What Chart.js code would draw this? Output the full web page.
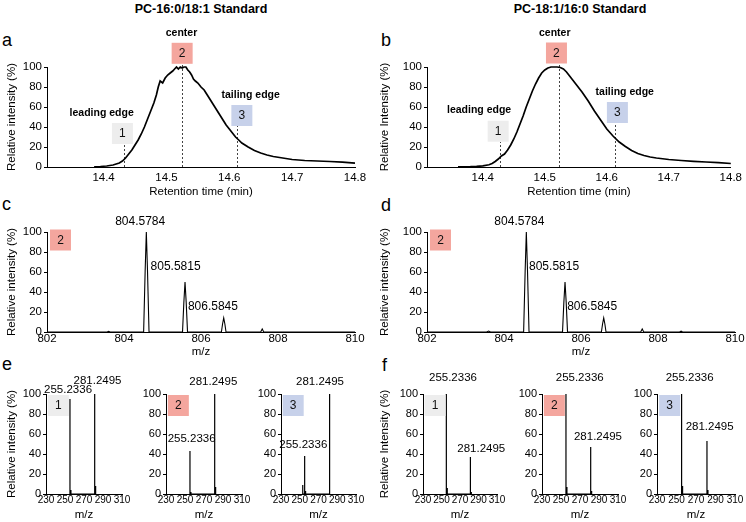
<!DOCTYPE html>
<html><head><meta charset="utf-8">
<script src="https://cdn.jsdelivr.net/npm/chart.js@4"></script>
<style>
html,body{margin:0;padding:0}
body{width:746px;height:522px;position:relative;background:#fff;overflow:hidden;font-family:"Liberation Sans",Arial,sans-serif;color:#000}
canvas{position:absolute}
.ttl{position:absolute;font-weight:bold;font-size:12.5px;white-space:nowrap;transform:translateX(-50%);line-height:1}
.lt{position:absolute;font-size:18px;line-height:1}
</style></head><body>
<div class="ttl" style="left:201px;top:3px">PC-16:0/18:1 Standard</div>
<div class="ttl" style="left:580px;top:3px">PC-18:1/16:0 Standard</div>
<div class="lt" style="left:2px;top:31px">a</div>
<div class="lt" style="left:381px;top:31px">b</div>
<div class="lt" style="left:2px;top:195px">c</div>
<div class="lt" style="left:381px;top:196px">d</div>
<div class="lt" style="left:2px;top:355px">e</div>
<div class="lt" style="left:382px;top:356px">f</div>
<canvas id="ca"></canvas><canvas id="cb"></canvas>
<canvas id="cc"></canvas><canvas id="cd"></canvas>
<canvas id="ce1"></canvas><canvas id="ce2"></canvas><canvas id="ce3"></canvas>
<canvas id="cf1"></canvas><canvas id="cf2"></canvas><canvas id="cf3"></canvas>
<script>
// ================= DATA =================
const yTicks = [0, 20, 40, 60, 80, 100];
const chromTicks = [14.4, 14.5, 14.6, 14.7, 14.8];
const msTicks = [802, 804, 806, 808, 810];
const msmsTicks = [230, 250, 270, 290, 310];

// (a) PC-16:0/18:1 extracted ion chromatogram
const aTime = [14.385,14.395,14.405,14.415,14.425,14.43,14.435,14.44,14.445,14.45,14.455,14.46,14.465,14.47,14.475,14.48,14.484,14.487,14.49,14.494,14.498,14.502,14.506,14.51,14.513,14.516,14.519,14.522,14.525,14.528,14.531,14.534,14.537,14.54,14.543,14.546,14.55,14.555,14.56,14.565,14.57,14.575,14.58,14.585,14.59,14.595,14.6,14.605,14.61,14.615,14.62,14.63,14.64,14.65,14.66,14.67,14.68,14.69,14.7,14.72,14.74,14.76,14.78,14.8];
const aInt  = [0.2,0.5,1,2,4,6,9,13,17,22,27,33,40,48,56,64,72,80,86,84,89,92,94,96,98,100,98,100,99,100,100,97,95,92,88,86,84,80,77,72,67,62,57,52,47,42,38,34,30,27,24,20,16.5,14,12,10.5,9.5,8.5,7.5,6.5,6,5.5,4.8,3.8];

// (b) PC-18:1/16:0 extracted ion chromatogram
const bTime = [14.36,14.38,14.39,14.4,14.41,14.415,14.42,14.425,14.43,14.435,14.44,14.445,14.45,14.455,14.46,14.465,14.47,14.475,14.48,14.485,14.49,14.495,14.5,14.505,14.51,14.515,14.52,14.525,14.53,14.535,14.54,14.545,14.55,14.56,14.57,14.58,14.59,14.6,14.61,14.62,14.63,14.64,14.65,14.66,14.67,14.68,14.7,14.72,14.74,14.76,14.78,14.8];
const bInt  = [0.1,0.3,0.6,1.2,2.2,3.5,5.5,8,11,13,17,22,28,35,43,51,60,68,76,83,89,94,97,99,100,100,100,99.5,98,95,91,87,83,75,66,56,47,38,31,25,20.5,16.5,13.5,11.5,10,9,7.5,6.5,5.7,5,4.3,3.5];

// (c)/(d) MS1 spectra at peak center
const cMz  = [802,803.56,803.6,803.64,804.51,804.55,804.58,804.61,804.65,805.52,805.555,805.585,805.615,805.65,806.53,806.56,806.59,806.62,806.65,807.55,807.59,807.63,810];
const cInt = [0,0,0.6,0,0,62,100,62,0,0,30,50,30,0,0,8,14,8,0,0,3,0,0];
const dMz  = [802,803.55,803.6,803.65,804.51,804.55,804.58,804.61,804.65,805.52,805.555,805.585,805.615,805.65,806.53,806.56,806.59,806.62,806.65,807.55,807.59,807.63,808.56,808.6,808.64,810];
const dInt = [0,0,1,0,0,62,100,62,0,0,30,50,30,0,0,8,14,8,0,0,3,0,0,0.8,0,0];
const precursorLabels = ['804.5784', '805.5815', '806.5845'];

// (e)/(f) MS/MS spectra at leading edge (1), center (2), tailing edge (3)
const e1Mz = [255.23, 256.24, 281.25, 282.25];          const e1Int = [95, 4, 100, 8];
const e2Mz = [255.23, 256.24, 281.25, 282.25];          const e2Int = [43, 2, 100, 7];
const e3Mz = [253.2, 255.23, 256.24, 281.25, 282.25];   const e3Int = [9, 38, 3, 100, 7];
const f1Mz = [255.23, 256.24, 281.25, 282.25];          const f1Int = [100, 6, 37, 2];
const f2Mz = [255.23, 256.24, 281.25, 282.25];          const f2Int = [100, 7, 47, 3];
const f3Mz = [255.23, 256.24, 281.25, 282.25];          const f3Int = [100, 8, 53, 4];
const fragLabels = ['255.2336', '281.2495'];
const boxLabels = ['1', '2', '3'];

// ================= STYLE / LAYOUT =================
const FF = "'Liberation Sans', Arial, Helvetica, sans-serif";
const BOX = ['#EDEDED', '#F4A69E', '#C7D1EA'];

function pts(xs, ys) { return xs.map((x, i) => ({x: x, y: ys[i]})); }
function sticks(xs, ys) {
  const out = [];
  xs.forEach((x, i) => { out.push({x: x, y: 0}, {x: x, y: ys[i]}, {x: x, y: 0}); });
  return out;
}

function makeAnn(items) {
  return {
    id: 'ann',
    beforeDatasetsDraw(chart) {
      const ctx = chart.ctx, xs = chart.scales.x, ys = chart.scales.y;
      ctx.save();
      items.filter(it => it.k === 'dash').forEach(it => {
        const X = Math.round(xs.getPixelForValue(it.x)) + 0.5;
        ctx.strokeStyle = '#444'; ctx.lineWidth = 1; ctx.setLineDash([2, 2]);
        ctx.beginPath(); ctx.moveTo(X, ys.getPixelForValue(it.y0)); ctx.lineTo(X, ys.getPixelForValue(it.y1)); ctx.stroke();
      });
      ctx.restore();
    },
    afterDraw(chart) {
      const ctx = chart.ctx, xs = chart.scales.x, ys = chart.scales.y;
      ctx.save();
      items.forEach(it => {
        const X = xs.getPixelForValue(it.x), Y = ys.getPixelForValue(it.y);
        if (it.k === 'box') {
          ctx.fillStyle = BOX[it.c];
          ctx.fillRect(X - 10.5, Y - 10.5, 21, 21);
          ctx.fillStyle = '#111'; ctx.font = (it.s || 12) + 'px ' + FF;
          ctx.textAlign = 'center'; ctx.textBaseline = 'middle';
          ctx.fillText(it.t, X, Y + 0.5);
        } else if (it.k === 'text') {
          ctx.fillStyle = '#000'; ctx.font = (it.b ? 'bold ' : '') + (it.s || 11) + 'px ' + FF;
          ctx.textAlign = 'center'; ctx.textBaseline = 'middle';
          ctx.fillText(it.t, X, Y);
        }
      });
      ctx.restore();
    }
  };
}

function mk(id, P, data, o) {
  const cv = document.getElementById(id);
  const W = P.cr - P.cl, H = P.cb - P.ct;
  cv.style.left = P.cl + 'px'; cv.style.top = P.ct + 'px';
  cv.style.width = W + 'px'; cv.style.height = H + 'px';
  cv.width = W; cv.height = H;
  const yw = P.pl - P.cl, padTop = P.pt - P.ct, padRight = P.cr - P.pr, xh = P.cb - P.pb;
  return new Chart(cv, {
    type: 'line',
    data: {datasets: [{data: data, borderColor: '#000', borderWidth: o.lw, pointRadius: 0, tension: 0, clip: false, fill: false}]},
    options: {
      responsive: false, animation: false, events: [],
      layout: {padding: {top: padTop, right: padRight, left: 0, bottom: 0}},
      plugins: {legend: {display: false}, tooltip: {enabled: false}},
      scales: {
        x: {
          type: 'linear', min: o.xMin, max: o.xMax,
          afterBuildTicks: s => { s.ticks = o.xTicks.map(v => ({value: v})); },
          afterFit: s => { s.height = xh; },
          grid: {display: true, drawOnChartArea: false, drawTicks: false},
          border: {display: true, color: '#000', width: 1},
          ticks: {font: {family: FF, size: o.xtick}, color: '#000', padding: o.xpad, autoSkip: false, maxRotation: 0, callback: v => o.fmt(v)},
          title: {display: true, text: o.xTitle, font: {family: FF, size: o.title}, color: '#000', padding: {top: 0, bottom: o.xtPad}}
        },
        y: {
          type: 'linear', min: 0, max: 100,
          afterBuildTicks: s => { s.ticks = yTicks.map(v => ({value: v})); },
          afterFit: s => { s.width = yw; },
          grid: {display: true, drawOnChartArea: false, drawTicks: true, tickLength: 3, color: '#000'},
          border: {display: true, color: '#000', width: 1},
          ticks: {font: {family: FF, size: o.ytick}, color: '#000', padding: 2},
          title: {display: !!o.yTitle, text: o.yTitle || '', font: {family: FF, size: o.title}, color: '#000', padding: {top: 5, bottom: 0}}
        }
      }
    },
    plugins: [makeAnn(o.ann || [])]
  });
}

const chromOpt = {xMin: 14.31, xMax: 14.8, xTicks: chromTicks, fmt: v => v.toFixed(1), xtick: 11.5, ytick: 11.5, title: 11.5, xpad: 4, xtPad: 6, lw: 1.7, xTitle: 'Retention time (min)'};
const msOpt = {xMin: 802, xMax: 810, xTicks: msTicks, fmt: v => String(v), xtick: 11.5, ytick: 11.5, title: 11.5, xpad: 0, xtPad: 3, lw: 1.1, xTitle: 'm/z'};
const msmsOpt = {xMin: 230, xMax: 310, xTicks: msmsTicks, fmt: v => String(v), xtick: 10, ytick: 11, title: 11.5, xpad: 0, xtPad: 0.5, lw: 1.2, xTitle: 'm/z'};

// (a)
mk('ca', {cl: 0, ct: 22, cr: 373, cb: 205, pl: 47, pt: 67, pr: 355, pb: 167}, pts(aTime, aInt), Object.assign({}, chromOpt, {
  yTitle: 'Relative intensity (%)',
  ann: [
    {k: 'dash', x: 14.433, y0: 0, y1: 23}, {k: 'dash', x: 14.524, y0: 0, y1: 103}, {k: 'dash', x: 14.613, y0: 0, y1: 41},
    {k: 'text', t: 'leading edge', x: 14.397, y: 54, b: 1, s: 10.5},
    {k: 'text', t: 'center', x: 14.524, y: 134, b: 1, s: 10.5},
    {k: 'text', t: 'tailing edge', x: 14.634, y: 72, b: 1, s: 10.5},
    {k: 'box', t: boxLabels[0], c: 0, x: 14.43, y: 33.5},
    {k: 'box', t: boxLabels[1], c: 1, x: 14.525, y: 113.7},
    {k: 'box', t: boxLabels[2], c: 2, x: 14.62, y: 51.5}
  ]}));
// (b)
mk('cb', {cl: 373, ct: 22, cr: 746, cb: 205, pl: 427, pt: 67, pr: 735, pb: 167}, pts(bTime, bInt), Object.assign({}, chromOpt, {
  yTitle: 'Relative Intensity (%)',
  ann: [
    {k: 'dash', x: 14.428, y0: 0, y1: 25}, {k: 'dash', x: 14.523, y0: 0, y1: 103}, {k: 'dash', x: 14.614, y0: 0, y1: 44},
    {k: 'text', t: 'leading edge', x: 14.394, y: 57, b: 1, s: 10.5},
    {k: 'text', t: 'center', x: 14.516, y: 134, b: 1, s: 10.5},
    {k: 'text', t: 'tailing edge', x: 14.629, y: 75, b: 1, s: 10.5},
    {k: 'box', t: boxLabels[0], c: 0, x: 14.4248, y: 35.8},
    {k: 'box', t: boxLabels[1], c: 1, x: 14.5188, y: 114},
    {k: 'box', t: boxLabels[2], c: 2, x: 14.6171, y: 54.5}
  ]}));
// (c)
mk('cc', {cl: 0, ct: 200, cr: 373, cb: 362, pl: 47, pt: 232, pr: 355, pb: 332}, pts(cMz, cInt), Object.assign({}, msOpt, {
  yTitle: 'Relative intensity (%)',
  ann: [
    {k: 'box', t: boxLabels[1], c: 1, x: 802.35, y: 92},
    {k: 'text', t: precursorLabels[0], x: 804.42, y: 110.3, s: 12},
    {k: 'text', t: precursorLabels[1], x: 805.34, y: 65.3, s: 12},
    {k: 'text', t: precursorLabels[2], x: 806.31, y: 25.3, s: 12}
  ]}));
// (d)
mk('cd', {cl: 373, ct: 200, cr: 746, cb: 362, pl: 427, pt: 232, pr: 735, pb: 332}, pts(dMz, dInt), Object.assign({}, msOpt, {
  yTitle: 'Relative intensity (%)',
  ann: [
    {k: 'box', t: boxLabels[1], c: 1, x: 802.35, y: 92},
    {k: 'text', t: precursorLabels[0], x: 804.4, y: 110.3, s: 12},
    {k: 'text', t: precursorLabels[1], x: 805.3, y: 65, s: 12},
    {k: 'text', t: precursorLabels[2], x: 806.29, y: 25, s: 12}
  ]}));
// (e)
mk('ce1', {cl: 0, ct: 370, cr: 140, cb: 522, pl: 46, pt: 394, pr: 122, pb: 494}, sticks(e1Mz, e1Int), Object.assign({}, msmsOpt, {
  yTitle: 'Relative intensity (%)',
  ann: [
    {k: 'box', t: boxLabels[0], c: 0, x: 243, y: 88.5},
    {k: 'text', t: fragLabels[0], x: 253.2, y: 104, s: 11.5},
    {k: 'text', t: fragLabels[1], x: 284.2, y: 113, s: 11.5}
  ]}));
mk('ce2', {cl: 125, ct: 370, cr: 258, cb: 522, pl: 166, pt: 394, pr: 242, pb: 494}, sticks(e2Mz, e2Int), Object.assign({}, msmsOpt, {
  ann: [
    {k: 'box', t: boxLabels[1], c: 1, x: 243, y: 88.5},
    {k: 'text', t: fragLabels[1], x: 279.8, y: 112.3, s: 11.5},
    {k: 'text', t: fragLabels[0], x: 257, y: 54.7, s: 11.5}
  ]}));
mk('ce3', {cl: 245, ct: 370, cr: 373, cb: 522, pl: 281, pt: 394, pr: 356, pb: 494}, sticks(e3Mz, e3Int), Object.assign({}, msmsOpt, {
  ann: [
    {k: 'box', t: boxLabels[2], c: 2, x: 243, y: 88.5},
    {k: 'text', t: fragLabels[1], x: 271.6, y: 112.3, s: 11.5},
    {k: 'text', t: fragLabels[0], x: 253.8, y: 49, s: 11.5}
  ]}));
// (f)
mk('cf1', {cl: 373, ct: 370, cr: 512, cb: 522, pl: 423, pt: 394, pr: 497, pb: 494}, sticks(f1Mz, f1Int), Object.assign({}, msmsOpt, {
  yTitle: 'Relative Intensity (%)',
  ann: [
    {k: 'box', t: boxLabels[0], c: 0, x: 243, y: 88.5},
    {k: 'text', t: fragLabels[0], x: 262.4, y: 115.7, s: 11.5},
    {k: 'text', t: fragLabels[1], x: 293, y: 44.7, s: 11.5}
  ]}));
mk('cf2', {cl: 505, ct: 370, cr: 632, cb: 522, pl: 542, pt: 394, pr: 618, pb: 494}, sticks(f2Mz, f2Int), Object.assign({}, msmsOpt, {
  ann: [
    {k: 'box', t: boxLabels[1], c: 1, x: 243, y: 88.5},
    {k: 'text', t: fragLabels[0], x: 269.7, y: 115.7, s: 11.5},
    {k: 'text', t: fragLabels[1], x: 288.9, y: 57.3, s: 11.5}
  ]}));
mk('cf3', {cl: 620, ct: 370, cr: 746, cb: 522, pl: 657, pt: 394, pr: 735, pb: 494}, sticks(f3Mz, f3Int), Object.assign({}, msmsOpt, {
  ann: [
    {k: 'box', t: boxLabels[2], c: 2, x: 243, y: 88.5},
    {k: 'text', t: fragLabels[0], x: 263.5, y: 115.7, s: 11.5},
    {k: 'text', t: fragLabels[1], x: 284, y: 66.7, s: 11.5}
  ]}));
</script>
</body></html>
